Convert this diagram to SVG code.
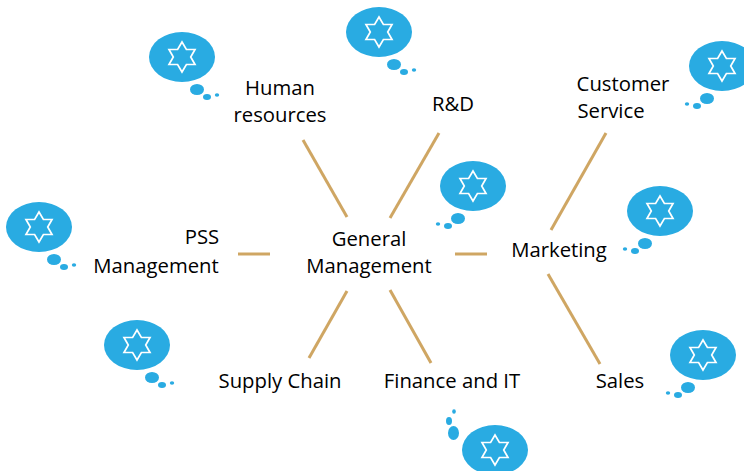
<svg xmlns="http://www.w3.org/2000/svg" xmlns:xlink="http://www.w3.org/1999/xlink" width="744" height="471" viewBox="0 0 744 471">
<style>
.t{font-family:"Open Sans","Noto Sans","Liberation Sans",sans-serif;font-size:20.3px;fill:#000;text-anchor:middle}
.c{stroke:#cfa663;stroke-width:3;fill:none}
.b{fill:#29abe2}
.s{fill:none;stroke:#fff;stroke-width:1.7;stroke-linejoin:miter}
</style>
<defs>
<g id="star"><path class="s" d="M0-15L4.400-7.500 13-7.500 8.700 0 13 7.500 4.400 7.500 0 15-4.400 7.500-13 7.500-8.700 0-13-7.500-4.400-7.500Z"/></g>
<g id="bl"><ellipse class="b" cx="0" cy="0" rx="33" ry="25"/><use xlink:href="#star" href="#star"/><ellipse class="b" cx="15" cy="32.500" rx="7" ry="5.500"/><ellipse class="b" cx="25" cy="40" rx="4" ry="3"/><ellipse class="b" cx="35" cy="38" rx="2.200" ry="1.800"/></g>
<g id="br"><ellipse class="b" cx="0" cy="0" rx="33" ry="25"/><use xlink:href="#star" href="#star"/><ellipse class="b" cx="-15" cy="32.500" rx="7" ry="5.500"/><ellipse class="b" cx="-25" cy="40" rx="4" ry="3"/><ellipse class="b" cx="-35" cy="38" rx="2.200" ry="1.800"/></g>
</defs>
<g id="connectors">
<line class="c" x1="303" y1="140" x2="347" y2="217"/>
<line class="c" x1="439" y1="133" x2="390" y2="218"/>
<line class="c" x1="238" y1="254" x2="270" y2="254"/>
<line class="c" x1="455" y1="254" x2="487" y2="254"/>
<line class="c" x1="347" y1="291" x2="309" y2="358"/>
<line class="c" x1="390" y1="290" x2="431" y2="363"/>
<line class="c" x1="606" y1="133" x2="551" y2="230"/>
<line class="c" x1="548" y1="274" x2="600" y2="364"/>
</g>
<g id="general"><text class="t" x="369" y="246">General</text><text class="t" x="369" y="273">Management</text></g>
<g id="human"><text class="t" x="280" y="95">Human</text><text class="t" x="280" y="122">resources</text><use xlink:href="#bl" href="#bl" x="182" y="57"/></g>
<g id="rd"><text class="t" x="453" y="111">R&amp;D</text><use xlink:href="#bl" href="#bl" x="379" y="32"/></g>
<g id="customer"><text class="t" x="623" y="91">Customer</text><text class="t" x="611" y="118">Service</text><use xlink:href="#br" href="#br" x="722" y="66"/></g>
<g id="marketing"><text class="t" x="559" y="257">Marketing</text><use xlink:href="#br" href="#br" x="660" y="211"/></g>
<g id="general-bubble"><use xlink:href="#br" href="#br" x="473" y="186"/></g>
<g id="pss"><text class="t" x="202" y="244">PSS</text><text class="t" x="156" y="273">Management</text><use xlink:href="#bl" href="#bl" x="39" y="227"/></g>
<g id="supply"><text class="t" x="280" y="388">Supply Chain</text><use xlink:href="#bl" href="#bl" x="137" y="345"/></g>
<g id="finance"><text class="t" x="452" y="388">Finance and IT</text><ellipse class="b" cx="495" cy="450" rx="33" ry="25"/><use xlink:href="#star" href="#star" x="495" y="450"/><ellipse class="b" cx="453.500" cy="433" rx="5.500" ry="7"/><ellipse class="b" cx="449" cy="421" rx="3" ry="4"/><ellipse class="b" cx="454" cy="411.500" rx="1.800" ry="2.200"/></g>
<g id="sales"><text class="t" x="620" y="388">Sales</text><use xlink:href="#br" href="#br" x="703" y="355"/></g>
</svg>
